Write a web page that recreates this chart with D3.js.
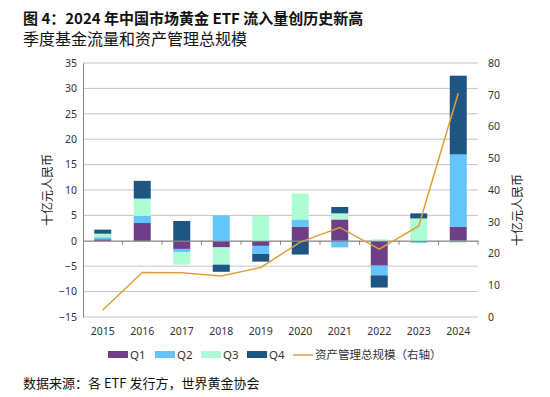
<!DOCTYPE html>
<html>
<head>
<meta charset="utf-8"/>
<title>中国黄金ETF</title>
<script src="https://d3js.org/d3.v7.min.js"></script>
<style>
  body { margin: 0; background: #fff; }
  text { font-family: "Noto Sans", "Noto Sans CJK SC", sans-serif; }
  .cjk { font-family: "Noto Sans CJK SC", sans-serif; }
</style>
</head>
<body>
<svg width="550" height="397"></svg>
<script>
// data
var years = ["2015","2016","2017","2018","2019","2020","2021","2022","2023","2024"];
var q1 = [0.3, 3.5, -1.6, -1.3, -1.0, 2.8, 4.2, -4.9, -0.1, 2.8];
var q2 = [0.4, 1.4, -0.6, 5.0, -1.6, 1.4, -1.3, -1.9, -0.3, 14.2];
var q3 = [0.7, 3.4, -2.5, -3.4, 4.9, 5.1, 1.2, 0.3, 4.4, -0.4];
var q4 = [0.8, 3.5, 3.9, -1.4, -1.5, -2.7, 1.25, -2.4, 1.0, 15.5];
var aum = [2.2, 14.0, 13.9, 12.9, 15.6, 23.6, 28.2, 21.4, 28.7, 70.5];
var seriesNames = ["Q1","Q2","Q3","Q4"];
var seriesColors = ["#6e3f87", "#63c5fb", "#aefcd4", "#1f5582"];
var lineColor = "#dca237";
var leftTicks = [35,30,25,20,15,10,5,0,-5,-10,-15];
var rightTicks = [80,70,60,50,40,30,20,10,0];

var margin = {top: 63, right: 72, bottom: 80, left: 83};
var width = 550 - margin.left - margin.right,
    height = 397 - margin.top - margin.bottom;

var svg = d3.select("svg");

// titles
svg.append("text").attr("class","cjk").attr("x",23).attr("y",24)
  .attr("font-size",15).attr("font-weight","bold").attr("fill","#111")
  .text("图 4：2024 年中国市场黄金 ETF 流入量创历史新高");
svg.append("text").attr("class","cjk").attr("x",23).attr("y",45)
  .attr("font-size",16).attr("fill","#111")
  .text("季度基金流量和资产管理总规模");

var g = svg.append("g")
  .attr("transform","translate(" + margin.left + "," + margin.top + ")");

var x = d3.scaleBand().domain(years).range([0, width]).paddingInner(0.57).paddingOuter(0.285);
var xb = d3.scaleBand().domain(years).range([0, width]);
var y = d3.scaleLinear().domain([-15, 35]).range([height, 0]);
var y2 = d3.scaleLinear().domain([0, 80]).range([height, 0]);

// gridlines
g.selectAll(".grid").data(leftTicks).enter().append("line")
  .attr("x1",0).attr("x2",width)
  .attr("y1",function(d){ return y(d); }).attr("y2",function(d){ return y(d); })
  .attr("stroke","#c4c4c4").attr("stroke-width",1);

// left axis
var ya = g.append("g").call(d3.axisLeft(y).tickValues(leftTicks).tickSize(0).tickPadding(6));
ya.select(".domain").attr("stroke","#888");
ya.selectAll("text").attr("font-size",10.5).attr("fill","#333");

// right axis labels
var yr = g.append("g").attr("transform","translate(" + (width) + ",0)")
  .call(d3.axisRight(y2).tickValues(rightTicks).tickSize(0).tickPadding(10));
yr.select(".domain").remove();
yr.selectAll("text").attr("font-size",10.5).attr("fill","#333");

// stacked bars
var table = years.map(function(yr, i){
  return {year: yr, Q1: q1[i], Q2: q2[i], Q3: q3[i], Q4: q4[i]};
});
var stack = d3.stack().keys(seriesNames).offset(d3.stackOffsetDiverging);
var layers = stack(table);

g.selectAll(".layer").data(layers).enter().append("g")
  .attr("fill", function(d, i){ return seriesColors[i]; })
  .selectAll("rect").data(function(d){ return d; }).enter().append("rect")
  .attr("x", function(d){ return x(d.data.year); })
  .attr("width", x.bandwidth())
  .attr("y", function(d){ return y(Math.max(d[0], d[1])); })
  .attr("height", function(d){ return Math.abs(y(d[0]) - y(d[1])); });

// category axis at zero
var xa = g.append("g").attr("transform","translate(0," + y(0) + ")")
  .call(d3.axisBottom(xb).tickSize(0).tickFormat(""));
xa.select(".domain").attr("stroke","#888");
g.selectAll(".xt").data(years.slice(1).concat(["end"])).enter().append("line")
  .attr("x1", function(d,i){ return xb.step()*(i+1); })
  .attr("x2", function(d,i){ return xb.step()*(i+1); })
  .attr("y1", y(0)).attr("y2", y(0) + 4)
  .attr("stroke","#888");

// year labels at the bottom
g.selectAll(".yl").data(years).enter().append("text")
  .attr("x", function(d){ return xb(d) + xb.bandwidth()/2; })
  .attr("y", height + 18)
  .attr("text-anchor","middle").attr("font-size",10.5).attr("fill","#333")
  .text(function(d){ return d; });

// AUM line
var line = d3.line()
  .x(function(d, i){ return xb(years[i]) + xb.bandwidth()/2; })
  .y(function(d){ return y2(d); });
g.append("path").datum(aum)
  .attr("d", line).attr("fill","none")
  .attr("stroke", lineColor).attr("stroke-width",1.5);

// axis titles
svg.append("text").attr("class","cjk")
  .attr("transform","translate(52,190) rotate(-90)")
  .attr("text-anchor","middle").attr("font-size",12).attr("fill","#222")
  .text("十亿元人民币");
svg.append("text").attr("class","cjk")
  .attr("transform","translate(522,210) rotate(-90)")
  .attr("text-anchor","middle").attr("font-size",12).attr("fill","#222")
  .text("十亿元人民币");

// legend
var legend = svg.append("g").attr("transform","translate(0,355)");
var lx = [108, 155, 201, 247];
seriesNames.forEach(function(name, i){
  legend.append("rect").attr("x", lx[i]).attr("y",-4).attr("width",20).attr("height",7)
    .attr("fill", seriesColors[i]);
  legend.append("text").attr("x", lx[i] + 22).attr("y",4)
    .attr("font-size",11.5).attr("fill","#333").text(name);
});
legend.append("line").attr("x1",293).attr("x2",313).attr("y1",0).attr("y2",0)
  .attr("stroke", lineColor).attr("stroke-width",1.5);
legend.append("text").attr("class","cjk").attr("x",315).attr("y",4)
  .attr("font-size",11.5).attr("fill","#333").text("资产管理总规模（右轴）");

// source
svg.append("text").attr("class","cjk").attr("x",23).attr("y",388)
  .attr("font-size",13).attr("fill","#111")
  .text("数据来源：各 ETF 发行方，世界黄金协会");
</script>
</body>
</html>
